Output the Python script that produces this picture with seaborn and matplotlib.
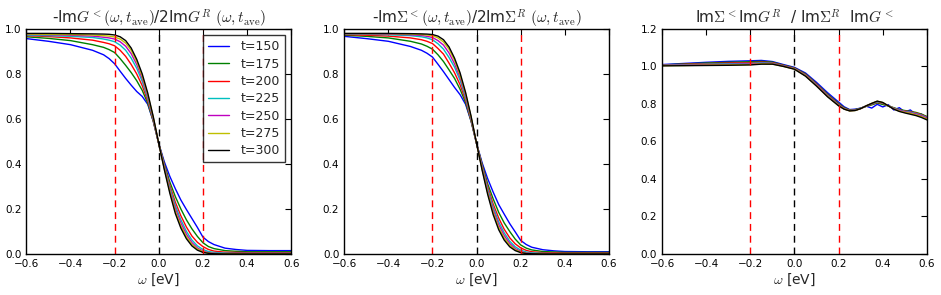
import numpy as np
import pandas as pd
import matplotlib
matplotlib.use("Agg")
import matplotlib.pyplot as plt
import seaborn as sns

# ---- data ----
times = ["t=150", "t=175", "t=200", "t=225", "t=250", "t=275", "t=300"]
colors = ["#0000ff", "#008000", "#ff0000", "#00bfbf", "#bf00bf", "#bfbf00", "#000000"]

w12 = [-0.6, -0.5, -0.4, -0.3, -0.25, -0.225, -0.2, -0.175, -0.15, -0.125, -0.1, -0.075,
       -0.05, -0.025, 0.0, 0.025, 0.05, 0.075, 0.1, 0.125, 0.15, 0.175, 0.2, 0.225, 0.25,
       0.3, 0.35, 0.4, 0.5, 0.6]

# -ImG< / 2ImG^R
g150 = [.957, .945, .930, .905, .885, .868, .845, .812, .780, .750, .722, .700, .665, .590, .490,
        .410, .345, .290, .240, .198, .158, .118, .075, .055, .042, .026, .020, .016, .015, .015]
g175 = [.965, .958, .948, .930, .918, .908, .895, .868, .838, .806, .770, .727, .670, .590, .490,
        .400, .320, .255, .200, .152, .112, .078, .050, .033, .024, .015, .012, .010, .010, .010]
g200 = [.970, .966, .960, .950, .940, .934, .925, .905, .878, .842, .800, .748, .680, .593, .490,
        .395, .305, .230, .170, .120, .080, .052, .033, .020, .013, .008, .007, .006, .006, .006]
g225 = [.972, .970, .967, .962, .955, .950, .943, .928, .905, .870, .825, .767, .690, .598, .490,
        .390, .295, .215, .152, .101, .062, .036, .020, .011, .007, .004, .003, .003, .003, .003]
g250 = [.975, .974, .972, .968, .963, .960, .955, .943, .923, .890, .842, .780, .700, .603, .490,
        .385, .285, .202, .138, .088, .051, .027, .013, .006, .003, .002, .002, .002, .002, .002]
g275 = [.977, .976, .975, .973, .970, .968, .964, .955, .937, .905, .855, .790, .708, .607, .490,
        .380, .278, .190, .125, .077, .043, .022, .010, .004, .002, .001, .001, .001, .001, .001]
g300 = [.980, .980, .979, .978, .977, .976, .973, .965, .948, .915, .865, .800, .715, .610, .490,
        .375, .270, .180, .115, .068, .036, .017, .007, .003, .001, .000, .000, .000, .000, .000]

# -ImSigma< / 2ImSigma^R
s150 = [.967, .957, .945, .922, .905, .892, .875, .843, .810, .775, .740, .708, .665, .590, .490,
        .405, .335, .275, .220, .177, .135, .098, .060, .042, .030, .019, .014, .011, .010, .010]
s175 = [.972, .967, .960, .945, .933, .923, .910, .885, .855, .818, .780, .732, .673, .590, .490,
        .398, .312, .245, .185, .138, .100, .066, .040, .026, .018, .011, .009, .007, .007, .007]
s200 = [.975, .972, .968, .960, .952, .945, .935, .913, .888, .848, .805, .752, .683, .594, .490,
        .392, .300, .222, .160, .110, .072, .045, .027, .016, .010, .006, .005, .004, .004, .004]
s225 = [.977, .976, .974, .970, .965, .960, .952, .934, .910, .873, .830, .772, .693, .599, .490,
        .387, .290, .208, .143, .094, .057, .032, .017, .009, .005, .003, .002, .002, .002, .002]
s250 = [.978, .978, .977, .974, .971, .967, .962, .948, .928, .893, .845, .785, .703, .604, .490,
        .382, .280, .196, .130, .082, .047, .024, .011, .005, .002, .001, .001, .001, .001, .001]
s275 = [.979, .979, .979, .977, .975, .973, .970, .960, .942, .910, .860, .795, .712, .608, .490,
        .377, .273, .185, .118, .071, .039, .019, .008, .003, .001, .000, .000, .000, .000, .000]
s300 = [.980, .980, .980, .979, .978, .977, .975, .968, .952, .920, .870, .805, .718, .612, .490,
        .372, .265, .175, .108, .062, .032, .015, .006, .002, .001, .000, .000, .000, .000, .000]

w3 = [-0.6, -0.5, -0.4, -0.3, -0.2, -0.15, -0.1, -0.05, 0.0, 0.05, 0.1, 0.15, 0.2, 0.225,
      0.25, 0.275, 0.3, 0.325, 0.35, 0.375, 0.4, 0.425, 0.45, 0.475, 0.5, 0.525, 0.55, 0.575, 0.6]

# ImSigma< ImG^R / ImSigma^R ImG<
r150 = [1.010, 1.016, 1.022, 1.027, 1.030, 1.032, 1.026, 1.010, 0.995, 0.965, 0.915, 0.860, 0.810, 0.785,
        0.770, 0.772, 0.778, 0.788, 0.778, 0.798, 0.784, 0.796, 0.768, 0.780, 0.757, 0.768, 0.744, 0.746, 0.728]
r175 = [1.008, 1.013, 1.018, 1.022, 1.025, 1.027, 1.023, 1.007, 0.992, 0.960, 0.908, 0.852, 0.802, 0.780,
        0.768, 0.770, 0.777, 0.787, 0.795, 0.805, 0.797, 0.790, 0.780, 0.770, 0.765, 0.760, 0.755, 0.746, 0.733]
r200 = [1.007, 1.011, 1.015, 1.018, 1.020, 1.023, 1.020, 1.005, 0.990, 0.957, 0.905, 0.848, 0.798, 0.777,
        0.766, 0.768, 0.776, 0.788, 0.798, 0.808, 0.803, 0.790, 0.778, 0.768, 0.762, 0.758, 0.752, 0.743, 0.730]
r225 = [1.006, 1.009, 1.012, 1.014, 1.016, 1.020, 1.017, 1.003, 0.988, 0.954, 0.902, 0.845, 0.795, 0.775,
        0.765, 0.767, 0.776, 0.789, 0.800, 0.810, 0.805, 0.790, 0.777, 0.767, 0.760, 0.756, 0.749, 0.740, 0.728]
r250 = [1.005, 1.007, 1.009, 1.011, 1.013, 1.017, 1.015, 1.002, 0.987, 0.952, 0.900, 0.843, 0.793, 0.774,
        0.764, 0.766, 0.775, 0.790, 0.802, 0.813, 0.806, 0.790, 0.775, 0.765, 0.758, 0.753, 0.746, 0.737, 0.725]
r275 = [1.004, 1.005, 1.007, 1.008, 1.010, 1.014, 1.013, 1.000, 0.986, 0.950, 0.897, 0.840, 0.791, 0.773,
        0.763, 0.765, 0.775, 0.790, 0.803, 0.814, 0.807, 0.790, 0.773, 0.762, 0.755, 0.750, 0.742, 0.733, 0.720]
r300 = [1.003, 1.004, 1.005, 1.006, 1.008, 1.012, 1.012, 1.000, 0.985, 0.948, 0.895, 0.838, 0.790, 0.772,
        0.763, 0.765, 0.775, 0.790, 0.803, 0.815, 0.808, 0.790, 0.772, 0.760, 0.752, 0.745, 0.738, 0.728, 0.715]


def long_form(w, series):
    frames = [pd.DataFrame({"w": w, "v": vals, "t": lab}) for lab, vals in zip(times, series)]
    return pd.concat(frames, ignore_index=True)


df1 = long_form(w12, [g150, g175, g200, g225, g250, g275, g300])
df2 = long_form(w12, [s150, s175, s200, s225, s250, s275, s300])
df3 = long_form(w3, [r150, r175, r200, r225, r250, r275, r300])

# ---- style ----
sns.set_style("white")
plt.rcParams["font.family"] = ["DejaVu Sans"]
plt.rcParams["mathtext.fontset"] = "cm"
plt.rcParams["xtick.direction"] = "in"
plt.rcParams["ytick.direction"] = "in"
plt.rcParams["xtick.top"] = True
plt.rcParams["ytick.right"] = True
plt.rcParams["xtick.major.size"] = 4
plt.rcParams["ytick.major.size"] = 4
plt.rcParams["axes.edgecolor"] = "black"

fig, axes = plt.subplots(1, 3, figsize=(9.41, 2.95), dpi=100)
fig.subplots_adjust(left=0.028, right=0.985, bottom=0.139, top=0.902, wspace=0.2)

titles = [
    r"-Im$G^<(\omega,t_{\rm ave})$/2Im$G^R$ $(\omega,t_{\rm ave})$",
    r"-Im$\Sigma^<(\omega,t_{\rm ave})$/2Im$\Sigma^R$ $(\omega,t_{\rm ave})$",
    r"Im$\Sigma^<$Im$G^R$  / Im$\Sigma^R$  Im$G^<$",
]

for i, (ax, df) in enumerate(zip(axes, [df1, df2, df3])):
    sns.lineplot(data=df, x="w", y="v", hue="t", palette=colors, linewidth=1.0,
                 ax=ax, legend=(i == 0))
    for xv, c in [(-0.2, "red"), (0.2, "red"), (0.0, "black")]:
        ax.axvline(xv, color=c, linewidth=1.0, dashes=(5, 3.5))
    ax.set_xlim(-0.6, 0.6)
    ax.set_xticks(np.arange(-0.6, 0.61, 0.2))
    ax.set_xticklabels(["\u22120.6", "\u22120.4", "\u22120.2", "0.0", "0.2", "0.4", "0.6"])
    if i < 2:
        ax.set_ylim(0, 1.0)
        ax.set_yticks(np.arange(0, 1.01, 0.2))
        ax.set_yticklabels(["0.0", "0.2", "0.4", "0.6", "0.8", "1.0"])
    else:
        ax.set_ylim(0, 1.2)
        ax.set_yticks(np.arange(0, 1.21, 0.2))
        ax.set_yticklabels(["0.0", "0.2", "0.4", "0.6", "0.8", "1.0", "1.2"])
    ax.tick_params(labelsize=7.5, colors="black", width=0.8)
    ax.set_title(titles[i], fontsize=11, pad=4)
    ax.set_xlabel(r"$\omega$ [eV]", fontsize=10, labelpad=2)
    ax.set_ylabel("")
    for s in ax.spines.values():
        s.set_linewidth(1.0)
        s.set_color("black")

leg = axes[0].legend(loc="upper right", fontsize=9, frameon=True, fancybox=False,
                     handlelength=1.7, borderaxespad=0.5, labelspacing=0.35,
                     handletextpad=0.9)
leg.get_frame().set_edgecolor("black")
leg.get_frame().set_linewidth(1.0)

fig.savefig("out.png", dpi=100)
